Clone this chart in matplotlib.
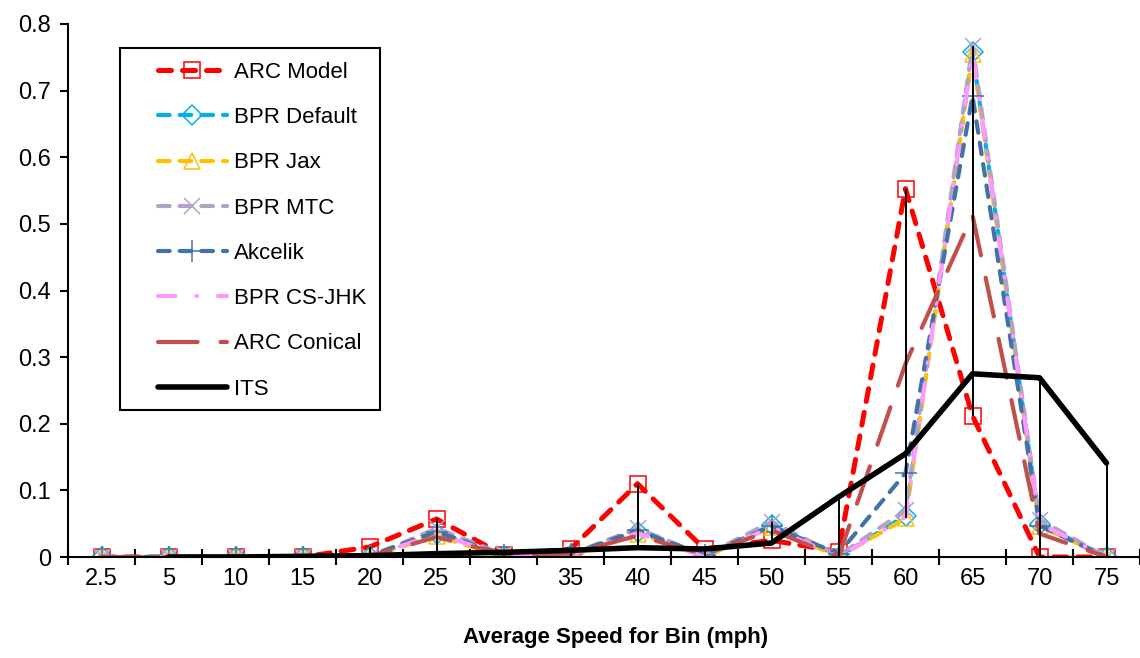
import matplotlib
matplotlib.use("Agg")
import matplotlib.pyplot as plt
from matplotlib.patches import Rectangle
import numpy as np

plt.rcParams['font.family'] = ['Liberation Sans Narrow', 'Liberation Sans', 'DejaVu Sans']

# categories (average speed bins, mph)
speed_bins = ['2.5', '5', '10', '15', '20', '25', '30', '35', '40', '45',
              '50', '55', '60', '65', '70', '75']

# share of observations per bin
arc_model = [0, 0, 0, 0, 0.015, 0.057, 0.003, 0.012, 0.11, 0.012, 0.025, 0.008, 0.553, 0.212, 0.0, 0.0]
bpr_default = [0, 0, 0, 0, 0, 0.035, 0.002, 0.003, 0.038, 0.0, 0.048, 0.0, 0.062, 0.758, 0.05, 0.0]
bpr_jax = [0, 0, 0, 0, 0, 0.032, 0.0, 0.0, 0.035, 0.0, 0.045, 0.0, 0.058, 0.755, 0.047, 0.0]
bpr_mtc = [0, 0, 0, 0, 0, 0.043, 0.004, 0.004, 0.043, 0.002, 0.053, 0.002, 0.07, 0.767, 0.056, 0.0]
akcelik = [0, 0, 0, 0, 0.002, 0.038, 0.003, 0.004, 0.04, 0.003, 0.046, 0.005, 0.126, 0.692, 0.047, 0.0]
bpr_cs_jhk = [0, 0, 0, 0, 0, 0.035, 0.002, 0.003, 0.036, 0.0, 0.045, 0.0, 0.06, 0.757, 0.05, 0.0]
arc_conical = [0, 0, 0, 0, 0.001, 0.03, 0.004, 0.005, 0.032, 0.004, 0.04, 0.0, 0.29, 0.513, 0.035, 0.0]
its = [np.nan, 0.0, 0.0, 0.001, 0.002, 0.005, 0.007, 0.01, 0.014, 0.012, 0.021, 0.09, 0.155, 0.275, 0.269, 0.141]

fig = plt.figure(figsize=(11.4, 6.58), dpi=100)
ax = fig.add_axes([68 / 1140, 1 - 557 / 658, 1 - 68 / 1140, (557 - 24) / 658])

x = np.arange(len(speed_bins))
dash = (2.8, 2.4)

series = [
    ('ARC Model', arc_model, '#FF0000', 's', (2.6, 2.2), 12, 3.6),
    ('BPR Default', bpr_default, '#00B0F0', 'D', dash, 10, 3.0),
    ('BPR Jax', bpr_jax, '#FFC000', '^', dash, 12, 3.0),
    ('BPR MTC', bpr_mtc, '#B3A2C7', 'x', dash, 12, 3.0),
    ('Akcelik', akcelik, '#4472A8', '+', dash, 16, 3.0),
    ('BPR CS-JHK', bpr_cs_jhk, '#FF99FF', None, (4.2, 5, 0.2, 5), 0, 3.0),
    ('ARC Conical', arc_conical, '#C0504D', None, (9.5, 5.5), 0, 3.0),
]

for name, vals, col, mk, dsh, ms, lw in series:
    ax.plot(x, vals, color=col, lw=lw, dashes=dsh, dash_capstyle='round',
            marker=mk, markersize=ms, markerfacecolor='none',
            markeredgecolor=col, markeredgewidth=1.1, label=name)

ax.plot(x, its, color='black', lw=4, solid_capstyle='round', label='ITS')

# high-low lines
allv = np.array([arc_model, bpr_default, bpr_jax, bpr_mtc, akcelik,
                 bpr_cs_jhk, arc_conical, np.nan_to_num(its)])
ax.vlines(x, allv.min(axis=0), allv.max(axis=0), color='black', lw=1.4, zorder=5)

ax.set_xlim(-0.5, len(speed_bins) - 0.5)
ax.set_ylim(0, 0.8)
ax.set_yticks(np.arange(0, 0.81, 0.1))
ax.set_yticklabels(['0', '0.1', '0.2', '0.3', '0.4', '0.5', '0.6', '0.7', '0.8'])
ax.set_xticks(np.arange(-0.5, len(speed_bins), 1.0))
ax.set_xticklabels([])
ax.set_xticks(x, minor=True)
ax.set_xticklabels(speed_bins, minor=True)
ax.tick_params(axis='x', which='major', direction='inout', length=11, width=1.5)
ax.tick_params(axis='x', which='minor', length=0, pad=8, labelsize=17)
ax.tick_params(axis='y', direction='out', length=6, width=1.5, labelsize=17, pad=6)

for s in ['top', 'right']:
    ax.spines[s].set_visible(False)
ax.spines['left'].set_linewidth(1.5)
ax.spines['bottom'].set_linewidth(1.5)

# legend box drawn separately to get the wide left margin
ax.add_patch(Rectangle((120 / 1140, 1 - 410 / 658), 260 / 1140, 362 / 658,
                       transform=fig.transFigure, facecolor='white',
                       edgecolor='black', lw=1.5, zorder=9, clip_on=False))
leg = ax.legend(loc='upper left', bbox_to_anchor=(158 / 1140, 1 - 62 / 658),
                bbox_transform=fig.transFigure, fontsize=16, frameon=False,
                handlelength=3.1, labelspacing=1.09, borderpad=0,
                handletextpad=0.3, borderaxespad=0, numpoints=1)
leg.set_zorder(10)

fig.text(616 / 1140, 1 - 638 / 658, 'Average Speed for Bin (mph)', ha='center',
         va='center', fontsize=16, fontweight='bold')

fig.savefig('out.png', dpi=100)
